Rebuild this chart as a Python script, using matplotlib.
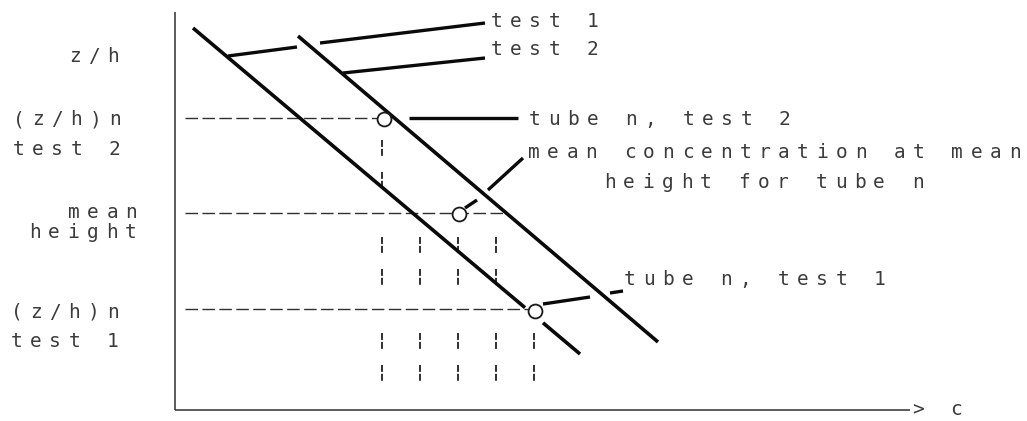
import numpy as np
import matplotlib
matplotlib.use("Agg")
import matplotlib.pyplot as plt

plt.rcParams["lines.scale_dashes"] = False
plt.rcParams["lines.solid_capstyle"] = "butt"

# Drawing units: 1 unit = 1 pixel; c grows to the right, z/h grows upward.
# Concentration profiles (c, z) endpoints for the two tests
test1_c = [18, 405]
test1_z = [382, 56]
test2_c = [123, 483]
test2_z = [374, 68]
# gap in the test 1 profile around the tube-n point
test1_gap = [350, 368]

# Reference heights: (z/h)n test 2, mean height, (z/h)n test 1
level_names = ["test2", "mean", "test1"]
level_z = [292, 197, 101]
level_c_end = [202, 328, 353]

# Tube n points (c, z)
point_c = [209, 284, 360]
point_z = [291, 196, 99]

guide_c = [207, 245, 283, 321, 359]
# (c index list, z top, z bottom) for each band of guides
guide_bands = [([0], 270, 222), ([0, 1, 2, 3], 173, 125), ([0, 1, 2, 3, 4], 77, 28)]

# Leader lines: list of segments ((c0, z0), (c1, z1))
leaders = [
    [((53, 354), (122, 363)), ((145, 367), (310, 387))],   # test 1
    [((168, 337), (310, 352))],                              # test 2
    [((234, 292), (343, 292))],                              # tube n, test 2
    [((290, 202), (302, 210)), ((313, 220), (348, 252))],   # mean concentration
    [((368, 106), (415, 113)), ((435, 117), (448, 119))],   # tube n, test 1
]

# Text labels: (c of first character cell, baseline z, text)
left_labels = [
    (-110, 348, "z/h"),
    (-166, 285, "(z/h)n"),
    (-166, 255, "test 2"),
    (-111, 192, "mean"),
    (-150, 172, "height"),
    (-168, 92, "(z/h)n"),
    (-168, 63, "test 1"),
]
right_labels = [
    (312, 383, "test 1"),
    (312, 355, "test 2"),
    (350, 285, "tube n, test 2"),
    (349, 252, "mean concentration at mean"),
    (425, 222, "height for tube n"),
    (445, 125, "tube n, test 1"),
    (733, -5, "> c"),
]

PITCH = 19.25
TEXT_COLOR = "#3c3c3c"
INK = "#0a0a0a"

fig = plt.figure(figsize=(10.27, 4.21), dpi=100)
ax = fig.add_axes([0, 0, 1, 1])
ax.set_xlim(-175, 852)
ax.set_ylim(-11, 410)
ax.axis("off")


def mono_text(c0, z, s):
    for i, ch in enumerate(s):
        if ch == " ":
            continue
        ax.text(c0 + (i + 0.5) * PITCH, z, ch, ha="center", va="baseline",
                family="DejaVu Sans Mono", fontsize=14, color=TEXT_COLOR)


# axes
ax.plot([0, 0], [0, 398], color="#303030", lw=1.1)
ax.plot([0, 735], [0, 0], color="#303030", lw=1.1)

# horizontal reference levels
for z, c_end in zip(level_z, level_c_end):
    ax.plot([10, c_end], [z, z], color="#303030", lw=1.0,
            dashes=(9.0, 3.2))

# vertical guides
for idx, z_top, z_bot in guide_bands:
    for k in idx:
        ax.plot([guide_c[k], guide_c[k]], [z_top, z_bot], color="#202020",
                lw=1.3, dashes=(5.0, 1.4, 5.0, 11.6))

# profiles
t1_slope = (test1_z[1] - test1_z[0]) / (test1_c[1] - test1_c[0])
def t1_z(c):
    return test1_z[0] + t1_slope * (c - test1_c[0])

ax.plot([test1_c[0], test1_gap[0]], [test1_z[0], t1_z(test1_gap[0])],
        color=INK, lw=2.6)
ax.plot([test1_gap[1], test1_c[1]], [t1_z(test1_gap[1]), test1_z[1]],
        color=INK, lw=2.6)
ax.plot(test2_c, test2_z, color=INK, lw=2.6)

# leaders
for segs in leaders:
    for (c0, z0), (c1, z1) in segs:
        ax.plot([c0, c1], [z0, z1], color=INK, lw=2.4)

# tube-n points
ax.plot(point_c, point_z, linestyle="none", marker="o", markersize=10,
        markerfacecolor="white", markeredgecolor="#1a1a1a",
        markeredgewidth=1.3, zorder=5)

for c0, z, s in left_labels + right_labels:
    mono_text(c0, z, s)

fig.savefig("out.png", dpi=100, facecolor="white")
